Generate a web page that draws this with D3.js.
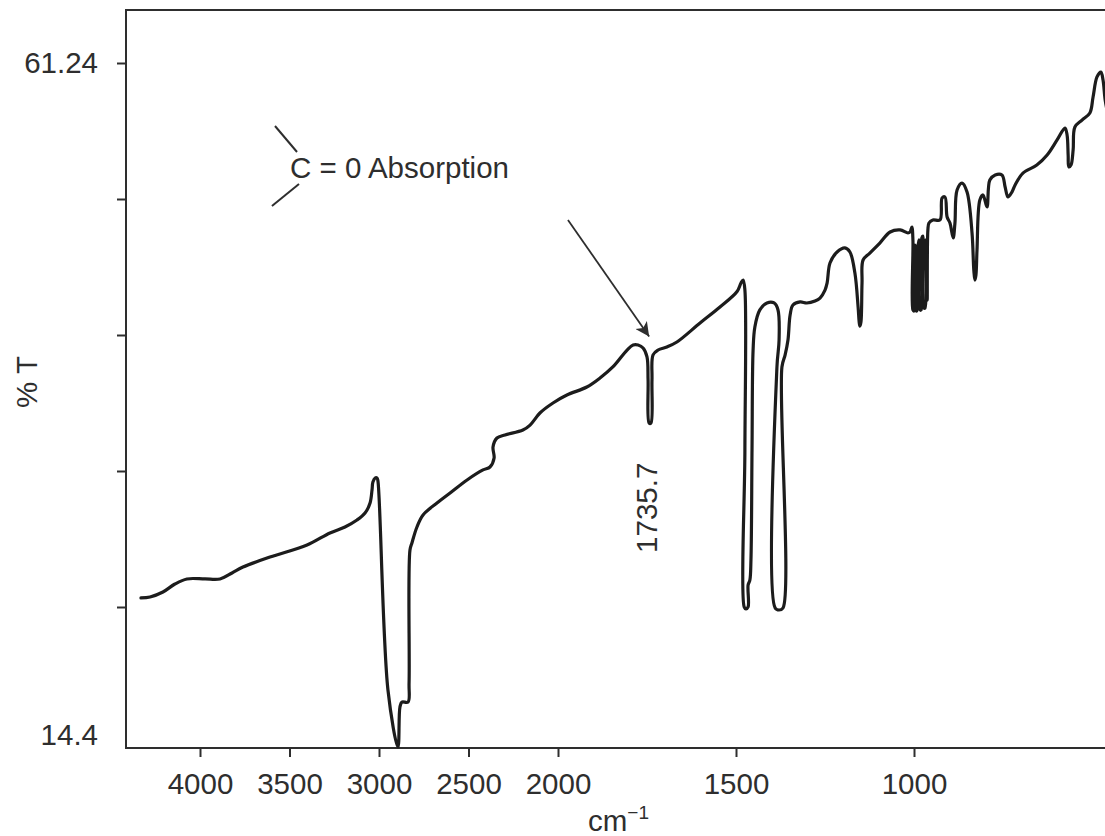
<!DOCTYPE html>
<html>
<head>
<meta charset="utf-8">
<script src="https://cdn.jsdelivr.net/npm/d3@7"></script>
<style>
  body { margin: 0; background: #fff; }
  text { font-family: "Liberation Sans", Arial, sans-serif; fill: #2e2e2e; }
</style>
</head>
<body>
<svg id="chart" width="1105" height="836"></svg>
<script>
// IR spectrum (cm-1 and %T)
const waveNumber = [
  4330, 4279, 4207, 4140, 4073, 3972, 3888, 3821, 3760, 3609, 3402, 3274, 3190, 3123, 3078, 3050, 3039, 3034, 3022, 3011, 3006,
  2950, 2894, 2883, 2872, 2838, 2832, 2827, 2816, 2788, 2754, 2676, 2603, 2508, 2419, 2380, 2357, 2363, 2341, 2296, 2196, 2156,
  2101, 2028, 1975, 1919, 1882, 1846, 1806, 1789, 1775, 1761, 1750, 1747, 1744, 1739, 1736, 1733, 1719, 1694, 1666, 1601, 1545,
  1497, 1486, 1480,
  1475, 1475, 1477, 1472, 1466, 1466, 1461, 1458, 1455, 1452, 1447, 1433, 1413, 1393, 1382, 1379, 1385, 1390, 1379, 1368, 1371,
  1362, 1354, 1348, 1340, 1320, 1301, 1278, 1264, 1250, 1244, 1236, 1216, 1194, 1180, 1166, 1157, 1154, 1152, 1149, 1146, 1143,
  1124, 1096, 1067, 1039, 1017,
  1011, 1006, 1003, 1003, 1000, 997, 994, 992, 989, 986, 983, 980, 978, 975, 972, 969, 966, 963, 961, 958,
  947, 927, 921, 913, 907, 899, 890, 885, 879, 865, 851, 837, 832, 829, 826, 823, 815, 806, 795, 787, 772, 753, 744, 736,
  725, 716, 694, 655, 626, 598, 576, 570, 567, 565, 559, 553, 548, 528, 506, 497, 486, 475, 469, 463, 455
];
const transmittance = [
  24.39, 24.46, 24.80, 25.35, 25.70, 25.70, 25.70, 26.11, 26.52, 27.21, 28.04, 28.87, 29.28, 29.76, 30.24, 30.93, 31.83, 32.38, 32.65, 32.65, 32.45,
  18.05, 14.13, 16.88, 17.22, 17.22, 18.53, 27.69, 28.18, 29.28, 30.11, 30.93, 31.62, 32.52, 33.21, 33.41, 34.03, 34.79, 35.41, 35.62, 35.96, 36.30,
  37.13, 37.82, 38.37, 38.92, 39.54, 40.30, 41.47, 41.82, 41.82, 41.61, 40.99, 39.40, 36.44, 36.44, 39.40, 41.13, 41.47, 41.68, 42.02, 43.33, 44.43,
  45.50, 46.09, 46.29,
  45.60, 34.58, 23.77, 23.63, 23.77, 25.28, 25.63, 27.01, 34.58, 41.47, 43.06, 44.23, 44.71, 44.71, 44.23, 42.16, 40.30, 23.70, 23.56, 23.70, 40.30,
  41.13, 42.16, 43.88, 44.57, 44.78, 44.71, 44.85, 45.05, 45.60, 46.09, 47.46, 48.22, 48.50, 48.22, 46.77, 44.43, 43.40, 43.12, 43.40, 46.09, 47.67,
  48.15, 48.84, 49.60, 49.74, 49.53,
  49.60, 49.94, 49.05, 44.23, 44.16, 48.70, 44.16, 44.16, 48.50, 49.05, 44.23, 44.23, 49.19, 49.32, 44.36, 44.36, 49.05, 44.91, 49.74, 50.22,
  50.43, 50.43, 51.94, 52.01, 50.63, 50.22, 49.19, 50.22, 52.49, 52.97, 52.35, 49.53, 46.98, 46.29, 46.64, 48.36, 51.80, 52.15, 51.32, 53.18, 53.53, 53.53, 52.70, 52.01,
  52.35, 52.84, 53.66, 54.21, 54.90, 55.94, 56.76, 56.28, 54.90, 54.08, 54.21, 55.25, 56.83, 57.31, 57.80, 58.90, 60.28, 60.62, 60.07, 58.69, 57.66
];

const xTicks = [4000, 3500, 3000, 2500, 2000, 1500, 1000];
const yTicks = [61.24, 51.872, 42.504, 33.136, 23.768, 14.4];
const yLabelled = [61.24, 14.4];

const svg = d3.select("#chart");
const frameLeft = 126, frameTop = 10, frameBottom = 748, frameRight = 1112;
const fontSize = "29.5px";

// the wavenumber axis changes scale at 2000 cm-1
const x = d3.scaleLinear().domain([4000, 2000, 1000]).range([200, 558, 914]);
const y = d3.scaleLinear().domain([14.4, 61.24]).range([743, 63]);

const points = waveNumber.map((w, i) => [w, transmittance[i]]);

// frame
svg.append("rect")
  .attr("x", frameLeft).attr("y", frameTop)
  .attr("width", frameRight - frameLeft).attr("height", frameBottom - frameTop)
  .attr("fill", "none").attr("stroke", "#2e2e2e").attr("stroke-width", 2);

// axes
const xAxis = svg.append("g")
  .attr("transform", `translate(0,${frameBottom})`)
  .call(d3.axisBottom(x).tickValues(xTicks).tickSize(9).tickPadding(16).tickFormat(d3.format("d")));
const yAxis = svg.append("g")
  .attr("transform", `translate(${frameLeft},0)`)
  .call(d3.axisLeft(y).tickValues(yTicks).tickSize(9).tickPadding(19)
    .tickFormat(d => yLabelled.includes(d) ? String(d) : ""));

[xAxis, yAxis].forEach(g => {
  g.select(".domain").remove();
  g.selectAll("line").attr("stroke", "#2e2e2e").attr("stroke-width", 2);
  g.selectAll("text").style("font-size", fontSize).attr("fill", "#2e2e2e");
});
// last y tick has no mark, its label sits a little higher
yAxis.selectAll(".tick").filter(d => d === 14.4).select("line").remove();
yAxis.selectAll(".tick").filter(d => d === 14.4).select("text").attr("dy", "0.05em");

// spectrum
const line = d3.line()
  .x(d => x(d[0]))
  .y(d => y(d[1]))
  .curve(d3.curveCatmullRom.alpha(0.5));

svg.append("path")
  .datum(points)
  .attr("d", line)
  .attr("fill", "none")
  .attr("stroke", "#1c1c1c")
  .attr("stroke-width", 3.2)
  .attr("stroke-linejoin", "round")
  .attr("stroke-linecap", "round");

// axis titles
svg.append("text")
  .attr("x", 588).attr("y", 831)
  .style("font-size", fontSize)
  .text("cm")
  .append("tspan")
  .attr("dy", "-12")
  .style("font-size", "19px")
  .text("−1");

svg.append("text")
  .attr("transform", "translate(37,382) rotate(-90)")
  .attr("text-anchor", "middle")
  .style("font-size", fontSize)
  .text("% T");

// annotations
svg.append("text")
  .attr("x", x(3497)).attr("y", y(53.32))
  .style("font-size", fontSize)
  .text("C = 0 Absorption");

svg.append("line")
  .attr("x1", x(3581)).attr("y1", y(56.90)).attr("x2", x(3458)).attr("y2", y(55.11))
  .attr("stroke", "#2e2e2e").attr("stroke-width", 2);
svg.append("line")
  .attr("x1", x(3598)).attr("y1", y(51.39)).attr("x2", x(3447)).attr("y2", y(52.91))
  .attr("stroke", "#2e2e2e").attr("stroke-width", 2);

svg.append("defs").append("marker")
  .attr("id", "head")
  .attr("viewBox", "0 0 10 10")
  .attr("refX", 10).attr("refY", 5)
  .attr("markerWidth", 20).attr("markerHeight", 14)
  .attr("markerUnits", "userSpaceOnUse")
  .attr("orient", "auto")
  .append("path").attr("d", "M0,0 L10,5 L0,10 L2.5,5 z").attr("fill", "#2e2e2e");

svg.append("line")
  .attr("x1", x(1972)).attr("y1", y(50.43))
  .attr("x2", x(1744)).attr("y2", y(42.4))
  .attr("stroke", "#2e2e2e").attr("stroke-width", 1.8)
  .attr("marker-end", "url(#head)");

svg.append("text")
  .attr("transform", `translate(${x(1722)},${y(30.6)}) rotate(-90)`)
  .attr("text-anchor", "middle")
  .style("font-size", fontSize)
  .text("1735.7");
</script>
</body>
</html>
